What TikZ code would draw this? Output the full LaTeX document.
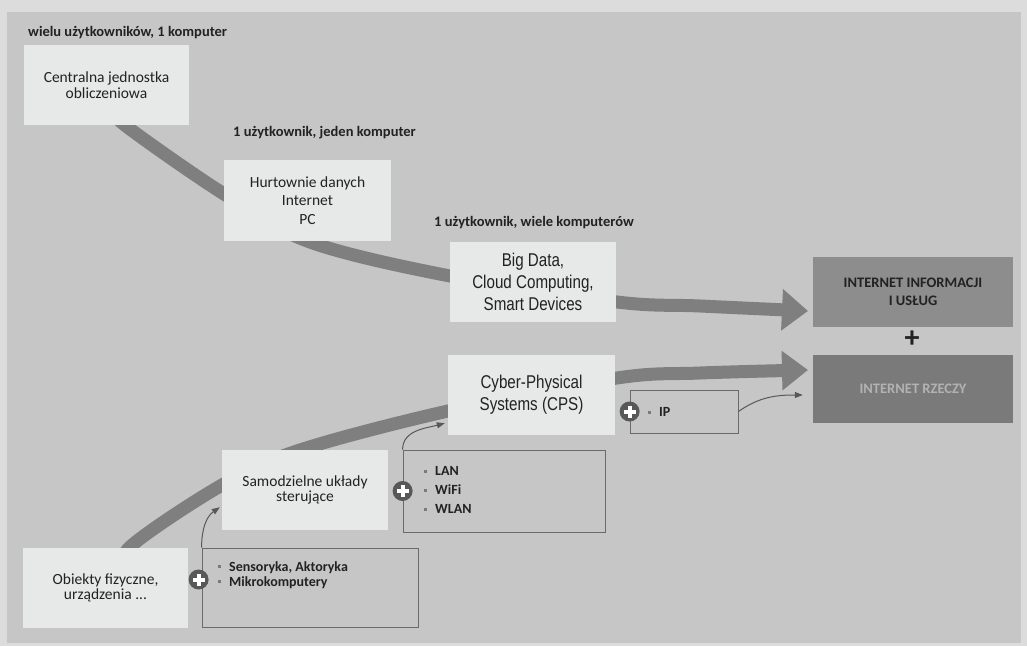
\documentclass[tikz,border=0pt]{standalone}
\usepackage{fontspec}
\setmainfont{Carlito}
\newfontfamily\narrowfont[FakeStretch=0.82]{Liberation Sans}
\usetikzlibrary{arrows.meta,calc}
\definecolor{bgpage}{HTML}{DCDCDC}
\definecolor{bggray}{HTML}{C6C6C6}
\definecolor{boxfill}{HTML}{E7E8E8}
\definecolor{bandc}{HTML}{7F7F7F}
\definecolor{darkA}{HTML}{8D8D8D}
\definecolor{darkB}{HTML}{7A7A7A}
\definecolor{plusc}{HTML}{585858}
\definecolor{framec}{HTML}{6A6A6A}
\definecolor{txt}{HTML}{222222}
\definecolor{bulc}{HTML}{7A7A7A}
\newcommand{\bul}{\textcolor{bulc}{\rule[3pt]{3pt}{3pt}}\hspace{8pt}}
\begin{document}
\begin{tikzpicture}[x=1pt,y=-1pt,
  lightbox/.style={rectangle, fill=boxfill, inner sep=0pt, align=center, text=txt,
    font=\fontsize{15.5}{15.5}\selectfont},
  narrowbox/.style={lightbox, font=\narrowfont\fontsize{18.5}{22}\selectfont},
  darkbox/.style={rectangle, inner sep=0pt, align=center,
    font=\fontsize{14.5}{18}\selectfont\bfseries},
  framebox/.style={rectangle, draw=framec, line width=0.8pt, inner sep=0pt},
  toplabel/.style={anchor=west, inner sep=0pt, text=txt,
    font=\fontsize{14.5}{15}\selectfont\bfseries},
  listtext/.style={anchor=west, inner sep=0pt, align=left, text=txt,
    font=\fontsize{14}{19}\selectfont\bfseries},
  plusdot/.style={circle, fill=plusc, minimum size=20pt, inner sep=0pt,
    path picture={
      \draw[white, line width=4pt] ($(path picture bounding box.center)+(-6,0)$) -- ++(12,0);
      \draw[white, line width=4pt] ($(path picture bounding box.center)+(0,-6)$) -- ++(0,12);}},
  band/.style={draw=bandc, line width=13pt},
  thinarrow/.style={draw=plusc, line width=1pt, -{Triangle[length=8pt,width=6pt]}}
]
\useasboundingbox (0,0) rectangle (1027,646);
\fill[bgpage] (0,0) rectangle (1027,646);
\fill[bggray] (7,12) rectangle (1021,643);

% thick bands (behind boxes)
\coordinate (u0) at (112,108);
\coordinate (u1) at (126,126);
\coordinate (u2) at (224,194);
\coordinate (u3) at (310,242);
\coordinate (u4) at (450,276);
\coordinate (u5) at (617,302);
\coordinate (u6) at (700,306);
\coordinate (u7) at (808,311);
\draw[band, -{Triangle[length=26pt,width=40pt]}] plot[smooth, tension=0.55] coordinates {(u0) (u1) (u2) (u3) (u4) (u5) (u6) (u7)};

\coordinate (l0) at (125,575);
\coordinate (l1) at (130,547);
\coordinate (l2) at (222,485);
\coordinate (l3) at (300,450);
\coordinate (l4) at (448,411);
\coordinate (l5) at (617,378);
\coordinate (l6) at (700,373);
\coordinate (l7) at (808,370);
\draw[band, -{Triangle[length=26pt,width=38pt]}] plot[smooth, tension=0.55] coordinates {(l0) (l1) (l2) (l3) (l4) (l5) (l6) (l7)};

% labels
\node[toplabel] (lab1) at (28,33) {wielu użytkowników, 1 komputer};
\node[toplabel] (lab2) at (233,133) {1 użytkownik, jeden komputer};
\node[toplabel] (lab3) at (434,223) {1 użytkownik, wiele komputerów};

% light boxes
\node[lightbox, minimum width=165pt, minimum height=80pt] (b1) at (106.5,85) {Centralna jednostka\\obliczeniowa};
\node[lightbox, minimum width=167pt, minimum height=81pt, font=\fontsize{15.5}{18.5}\selectfont] (b2) at (307.5,200.5) {Hurtownie danych\\Internet\\PC};
\node[narrowbox, minimum width=166pt, minimum height=80pt] (b3) at (533,282) {Big Data,\\Cloud Computing,\\Smart Devices};
\node[narrowbox, minimum width=167pt, minimum height=80pt] (b4) at (531.5,395) {Cyber-Physical\\Systems (CPS)};
\node[lightbox, minimum width=166pt, minimum height=80pt] (b5) at (305,490) {Samodzielne układy\\sterujące};
\node[lightbox, minimum width=165pt, minimum height=80pt] (b6) at (105.5,588) {Obiekty fizyczne,\\urządzenia ...};

% dark boxes
\node[darkbox, fill=darkA, text=txt, minimum width=200pt, minimum height=70pt] (top) at (913,292) {INTERNET INFORMACJI\\I USŁUG};
\node[font=\fontsize{30}{30}\selectfont\bfseries, text=txt, inner sep=0pt] (plussign) at (912,339) {+};
\node[darkbox, fill=darkB, text=black!30, minimum width=200pt, minimum height=68pt] (bot) at (913,389) {INTERNET RZECZY};

% framed lists
\node[framebox, minimum width=108pt, minimum height=43pt] (ipbox) at (684,411.5) {};
\node[framebox, minimum width=202pt, minimum height=82pt] (lanbox) at (504,491) {};
\node[framebox, minimum width=216pt, minimum height=79pt] (senbox) at (310,587.5) {};

\node[listtext] (iplist) at (648,412) {\bul IP};
\node[listtext] (lanlist) at (424,490) {\bul LAN\\\bul WiFi\\\bul WLAN};
\node[listtext, font=\fontsize{14}{15}\selectfont\bfseries] (senlist) at (218,575) {\bul Sensoryka, Aktoryka\\\bul Mikrokomputery};

\node[plusdot] (p1) at (ipbox.west) {};
\node[plusdot] (p2) at (lanbox.west) {};
\node[plusdot] (p3) at ($(senbox.west)+(-3,-8)$) {};

% thin arrows
\coordinate (ta1) at ($(b4.south west)+(-3,-12)$);
\coordinate (ta2) at ($(b5.south west)+(-2,-23)$);
\coordinate (ta3) at ($(bot.west)+(-10,6)$);
\draw[thinarrow] (lanbox.north west) to[out=90, in=195] (ta1);
\draw[thinarrow] (senbox.north west) to[out=90, in=215] (ta2);
\draw[thinarrow] (ipbox.east) to[out=35, in=180] (ta3);
\end{tikzpicture}
\end{document}
